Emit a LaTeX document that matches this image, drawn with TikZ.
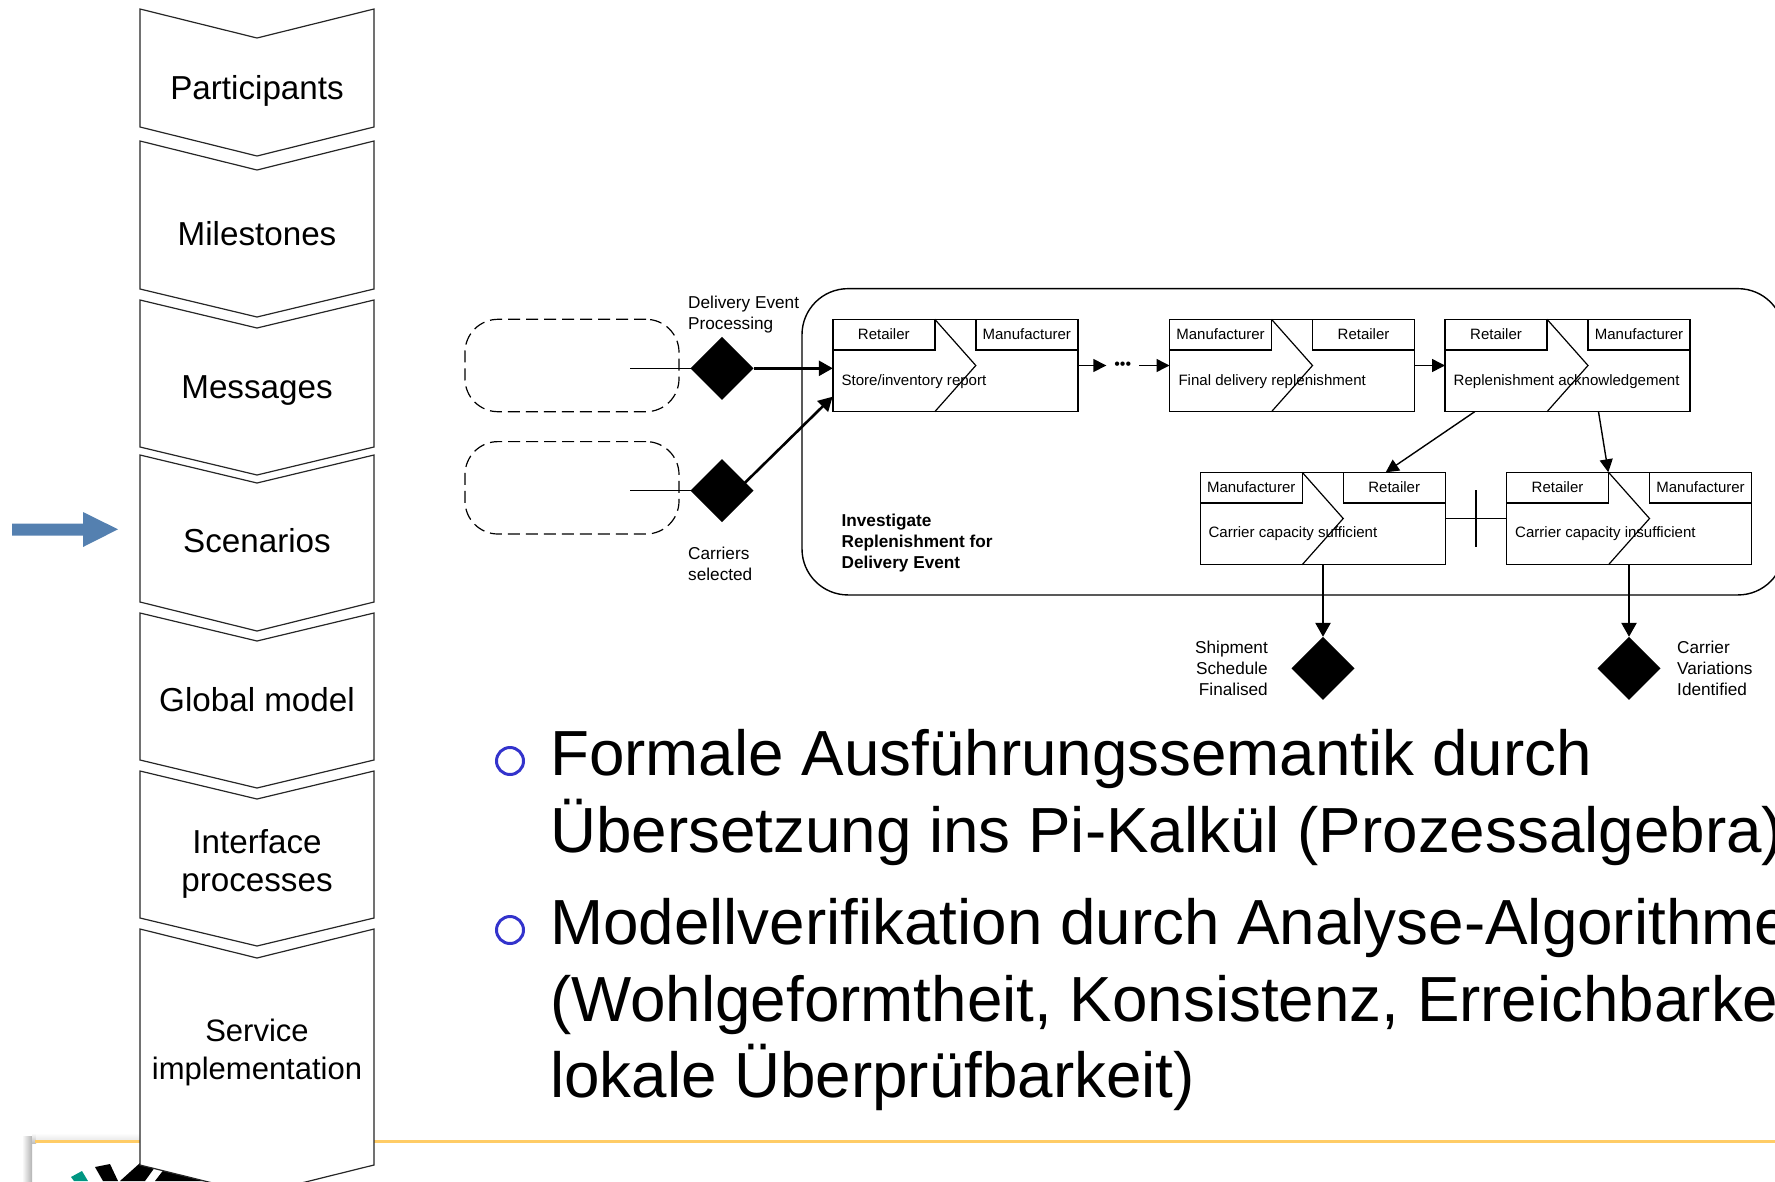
\documentclass[tikz,border=0pt]{standalone}
\usepackage{fontspec}
\setmainfont{Liberation Sans}
\usetikzlibrary{arrows.meta,shapes.geometric}
\definecolor{arrowblue}{HTML}{5480B0}
\definecolor{ringblue}{HTML}{3333CC}
\definecolor{railorange}{HTML}{FFCC66}
\definecolor{logoteal}{HTML}{009682}
\begin{document}
\begin{tikzpicture}[x=1pt,y=-1pt]
\tikzset{chevron/.style = {draw=black!85,fill=white,line width=1.2pt,line join=miter}}
\tikzset{phase/.style = {font=\fontsize{33.2}{37.4}\selectfont,align=center,inner sep=0pt}}
\tikzset{task/.style = {shape=rectangle,draw,line width=1.4pt,minimum width=245pt,minimum height=92.4pt,inner sep=0pt,outer sep=0pt}}
\tikzset{role/.style = {shape=rectangle,draw,line width=1.4pt,minimum width=102pt,minimum height=30.7pt,inner sep=0pt,outer sep=0pt,text depth=2pt,font=\fontsize{15}{18}\selectfont}}
\tikzset{tasktext/.style = {anchor=west,inner sep=0pt,font=\fontsize{15.05}{18}\selectfont}}
\tikzset{note/.style = {inner sep=0pt,font=\fontsize{17.2}{21}\selectfont}}
\tikzset{event/.style = {shape=diamond,fill=black,minimum size=63pt,inner sep=0pt,outer sep=0pt}}
\tikzset{dashbox/.style = {draw,line width=1.2pt,dash pattern=on 12pt off 6pt,rounded corners=33pt,minimum width=214pt,minimum height=92.4pt,inner sep=0pt}}
\tikzset{flow/.style = {line width=1.4pt,-{Triangle[length=13pt,width=13pt]}}}
\tikzset{heavy/.style = {line width=2.6pt,-{Triangle[length=14pt,width=15pt]}}}
\tikzset{bullet/.style = {shape=circle,draw=ringblue,line width=3pt,minimum size=27pt,inner sep=0pt}}
\tikzset{bodytext/.style = {anchor=north west,align=left,inner sep=0pt,font=\fontsize{63.75}{76.7}\selectfont}}
\path[use as bounding box,clip] (0,0) rectangle (1775,1181);
% logo panel behind the steps
\shade[left color=white,right color=black!30] (22,1136) rectangle (32,1181);
\shade[top color=white,bottom color=black!25] (32,1133) rectangle (36,1143);
\shade[top color=white,bottom color=black!8] (36,1133) rectangle (140,1140);
\draw[railorange,line width=3pt] (35,1141.5) -- (1775,1141.5);
\fill[logoteal] (71,1177) -- (82,1171) -- (88,1181) -- (74,1181) -- cycle;
\fill[black] (95,1167) -- (110,1164) -- (118,1181) -- (103,1181) -- cycle;
\fill[black] (120,1181) -- (140,1163) -- (158,1163) -- (145,1181) -- cycle;
\fill[black] (155,1181) -- (165,1168) -- (210,1178) -- (210,1181) -- cycle;
% steps on the left
\draw[chevron] (140,9) -- (257,38) -- (374,9) -- (374,127) -- (257,156) -- (140,127) -- cycle;
\draw[chevron] (140,141) -- (257,170) -- (374,141) -- (374,289) -- (257,317) -- (140,289) -- cycle;
\draw[chevron] (140,300) -- (257,328) -- (374,300) -- (374,447) -- (257,475) -- (140,447) -- cycle;
\draw[chevron] (140,455) -- (257,483) -- (374,455) -- (374,602) -- (257,631) -- (140,602) -- cycle;
\draw[chevron] (140,613) -- (257,641) -- (374,613) -- (374,760) -- (257,788) -- (140,760) -- cycle;
\draw[chevron] (140,771) -- (257,799) -- (374,771) -- (374,918) -- (257,946) -- (140,918) -- cycle;
\draw[chevron] (140,929) -- (257,958) -- (374,929) -- (374,1165) -- (257,1194) -- (140,1165) -- cycle;
\node[phase] (participants) at (257,90.5) {Participants};
\node[phase] (milestones) at (257,234) {Milestones};
\node[phase] (messages) at (257,390.5) {Messages};
\node[phase] (scenarios) at (257,541) {Scenarios};
\node[phase] (globalmodel) at (257,700) {Global model};
\node[phase] (interface) at (257,864) {Interface\\processes};
\node[phase,font=\fontsize{31}{37.4}\selectfont] (service) at (257,1052.4) {Service\\implementation};
% marker at the current step
\fill[arrowblue] (12,523.5) -- (83,523.5) -- (83,512) -- (118,529.3) -- (83,547) -- (83,535.5) -- (12,535.5) -- cycle;
% process frame
\node[draw,line width=1.4pt,rounded corners=46pt,minimum width=982pt,minimum height=306.3pt,inner sep=0pt] (frame) at (1293,441.8) {};
% outside parties
\node[dashbox] (partya) at (572,365.5) {};
\node[dashbox] (partyb) at (572,487.8) {};
\coordinate (enda) at (630,368.3);
\coordinate (endb) at (630,490.7);
% events on the left
\node[event] (eva) at (722,368.3) {};
\node[event] (evb) at (722,490.7) {};
\node[note,anchor=west,align=left] (evatext) at (688,314.3) {Delivery Event\\Processing};
\node[note,anchor=west,align=left] (evbtext) at (688,563.6) {Carriers\\selected};
% store report
\node[task] (ta) at (955.3,365.5) {};
\node[role,anchor=north west] (tal) at (ta.north west) {Retailer};
\node[role,anchor=north east] (tar) at (ta.north east) {Manufacturer};
\draw[line width=1.2pt] (tal.north east) -- (tar.north west |- ta.center) -- (tal.east |- ta.south);
\node[tasktext] (tat) at (841.4,382) {Store/inventory report};
% final delivery
\node[task] (tb) at (1292,365.5) {};
\node[role,anchor=north west] (tbl) at (tb.north west) {Manufacturer};
\node[role,anchor=north east] (tbr) at (tb.north east) {Retailer};
\draw[line width=1.2pt] (tbl.north east) -- (tbr.north west |- tb.center) -- (tbl.east |- tb.south);
\node[tasktext] (tbt) at (1178.3,382) {Final delivery replenishment};
% acknowledgement
\node[task] (tc) at (1567.5,365.5) {};
\node[role,anchor=north west] (tcl) at (tc.north west) {Retailer};
\node[role,anchor=north east] (tcr) at (tc.north east) {Manufacturer};
\draw[line width=1.2pt] (tcl.north east) -- (tcr.north west |- tc.center) -- (tcl.east |- tc.south);
\node[tasktext] (tct) at (1453.5,382) {Replenishment acknowledgement};
% carrier capacity sufficient
\node[task] (td) at (1322.7,518.5) {};
\node[role,anchor=north west] (tdl) at (td.north west) {Manufacturer};
\node[role,anchor=north east] (tdr) at (td.north east) {Retailer};
\draw[line width=1.2pt] (tdl.north east) -- (tdr.north west |- td.center) -- (tdl.east |- td.south);
\node[tasktext] (tdt) at (1208.4,534) {Carrier capacity sufficient};
% carrier capacity insufficient
\node[task] (te) at (1629,518.5) {};
\node[role,anchor=north west] (tel) at (te.north west) {Retailer};
\node[role,anchor=north east] (ter) at (te.north east) {Manufacturer};
\draw[line width=1.2pt] (tel.north east) -- (ter.north west |- te.center) -- (tel.east |- te.south);
\node[tasktext] (tet) at (1515,534) {Carrier capacity insufficient};
\node[note,anchor=west,align=left,font=\fontsize{17.2}{21}\bfseries\selectfont] (frametext) at (841.4,543.5) {Investigate\\Replenishment for\\Delivery Event};
% events below
\node[event] (evc) at (1323,668.3) {};
\node[event] (evd) at (1629,668.3) {};
\node[note,anchor=east,align=right] (evctext) at (1268,668) {Shipment\\Schedule\\Finalised};
\node[note,anchor=west,align=left] (evdtext) at (1677,668) {Carrier\\Variations\\Identified};
% connectors
\draw[line width=1.4pt] (enda) -- (eva);
\draw[line width=1.4pt] (endb) -- (evb);
\draw[heavy] (eva) -- (eva -| ta.west);
\coordinate (outb) at (745,482.7);
\coordinate (inb) at (832.6,396.7);
\draw[heavy] (outb) -- (inb);
\node[inner sep=0pt,minimum width=32.5pt,font=\fontsize{16}{18}\selectfont] (dots) at (1122.75,365.5) {•••};
\draw[flow] (ta.east) -- (dots.west);
\draw[flow] (dots.east) -- (tb.west);
\draw[flow] (tb.east) -- (tc.west);
\coordinate (outc) at (1474.7,411.7);
\coordinate (ind) at (1385.7,472.3);
\draw[flow] (outc) -- (ind);
\coordinate (oute) at (1598.5,411.7);
\coordinate (ine) at (1608.3,472.3);
\draw[flow] (oute) -- (ine);
\draw[line width=1.2pt] (td.east) -- (te.west);
\coordinate (bara) at (1476,490);
\coordinate (barb) at (1476,546.7);
\draw[line width=1.2pt] (bara) -- (barb);
\draw[heavy] (evc |- td.south) -- (evc.north);
\draw[heavy] (evd |- te.south) -- (evd.north);
% text below the diagram
\node[bullet] (ringa) at (510,761) {};
\node[bullet] (ringb) at (510,930) {};
\node[bodytext] (bodya) at (550,729) {Formale Ausführungssemantik durch\\Übersetzung ins Pi-Kalkül (Prozessalgebra)};
\node[bodytext] (bodyb) at (550,898) {Modellverifikation durch Analyse-Algorithmen\\(Wohlgeformtheit, Konsistenz, Erreichbarkeit,\\lokale Überprüfbarkeit)};
\end{tikzpicture}
\end{document}
